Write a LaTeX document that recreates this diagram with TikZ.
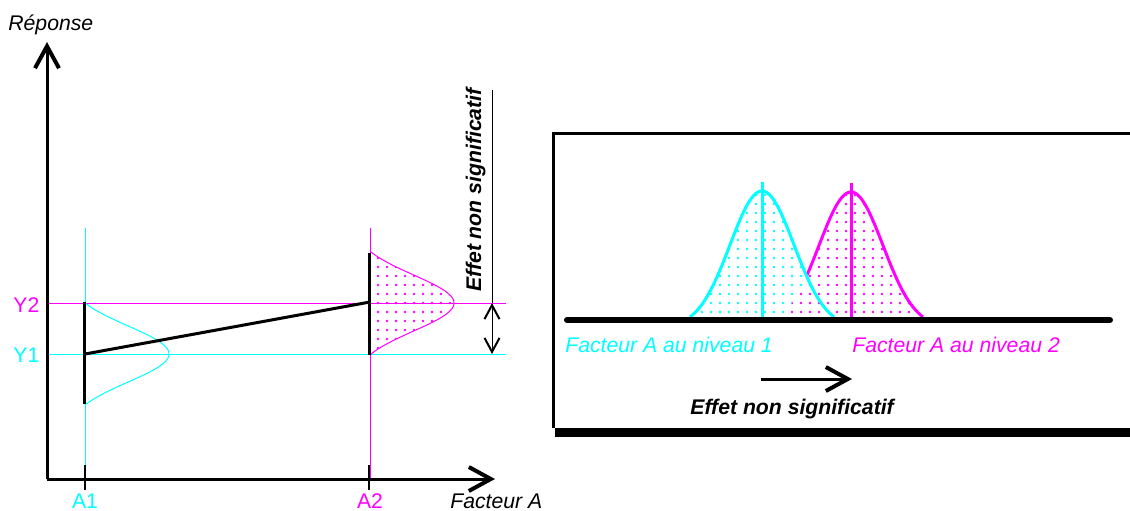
\documentclass[tikz,border=0pt]{standalone}
\usepackage{fontspec}
\setmainfont{Liberation Sans}
\usetikzlibrary{arrows.meta,patterns.meta}
\definecolor{cy}{RGB}{0,255,255}
\definecolor{mg}{RGB}{255,0,255}
\begin{document}
\begin{tikzpicture}[x=0.5pt,y=-0.5pt,
  declare function={
    bellL(\t)=(exp(-\t*\t/1568)-exp(-2601/1568))/(1-exp(-2601/1568));
    bellR(\t)=(exp(-\t*\t/2048)-exp(-5184/2048))/(1-exp(-5184/2048));
  },
  txt/.style={inner sep=0pt,font=\fontsize{10.6}{12}\selectfont},
  itxt/.style={txt,font=\fontsize{10.6}{12}\selectfont\itshape},
  btxt/.style={txt,font=\fontsize{10.6}{12}\selectfont\bfseries\itshape},
  axis/.style={line width=1.5pt,-{Straight Barb[length=11pt,width=12pt,line width=2pt]}},
  thinc/.style={cy,line width=0.5pt},
  thinm/.style={mg,line width=0.5pt},
  bar/.style={line width=1.5pt},
  bell/.style={line width=1.5pt},
  dotsc/.style={pattern={Dots[distance=4.5pt,radius=0.7pt]},pattern color=cy},
  dotsm/.style={pattern={Dots[distance=4.5pt,radius=0.7pt]},pattern color=mg},
  dblarrow/.style={line width=0.5pt,{Straight Barb[length=7pt,width=7.5pt,line width=1pt]}-{Straight Barb[length=7pt,width=7.5pt,line width=1pt]}},
  fleche/.style={line width=1.5pt,-{Straight Barb[length=11pt,width=12pt,line width=2pt]}}
]
\useasboundingbox (0,0) rectangle (1130,510);

% ---------- left chart ----------
\coordinate (O) at (47,479);
\coordinate (Ytop) at (47,42);
\coordinate (Xend) at (495,479);

% guide lines
\coordinate (c1t) at (85,228);  \coordinate (c1b) at (85,479);
\coordinate (m2t) at (370,228); \coordinate (m2b) at (370,479);
\coordinate (y2a) at (48,303);  \coordinate (y2b) at (506,303);
\coordinate (y1a) at (48,354);  \coordinate (y1b) at (506,354);
\draw[thinc] (c1t) -- (c1b);
\draw[thinm] (m2t) -- (m2b);
\draw[thinm] (y2a) -- (y2b);
\draw[thinc] (y1a) -- (y1b);

% magenta distribution (A2), dotted
\fill[dotsm] plot[domain=-51:51,samples=80] ({371+83*bellL(\x)},{303+\x}) -- cycle;
\draw[thinm] plot[domain=-51:51,samples=80] ({371+83*bellL(\x)},{303+\x});
% cyan distribution (A1)
\draw[thinc] plot[domain=-51:51,samples=80] ({85+84*bellL(\x)},{354+\x});

% bars and mean line
\coordinate (b1t) at (84,302); \coordinate (b1b) at (84,404);
\coordinate (b2t) at (369,253); \coordinate (b2b) at (369,355);
\coordinate (m1) at (85,354); \coordinate (m2) at (370,302);
\draw[bar] (b1t) -- (b1b);
\draw[bar] (b2t) -- (b2b);
\draw[bar] (m1) -- (m2);

% axes
\draw[axis] (O) -- (Ytop);
\draw[axis] (O) -- (Xend);
\coordinate (t1a) at (85,465); \coordinate (t1b) at (85,490);
\coordinate (t2a) at (369,465); \coordinate (t2b) at (369,490);
\draw[line width=1.2pt] (t1a) -- (t1b);
\draw[line width=1.2pt] (t2a) -- (t2b);

% effect marker
\coordinate (vtop) at (492,90); \coordinate (vup) at (492,303); \coordinate (vdn) at (492,354);
\draw[line width=0.5pt] (vtop) -- (vup);
\draw[dblarrow] (vup) -- (vdn);
\node[btxt,rotate=90,anchor=base west] (effv) at (481,292) {Effet non significatif};

% labels
\node[itxt,anchor=base west] (rep) at (8,30) {Réponse};
\node[itxt,anchor=base west] (fac) at (450,508) {Facteur A};
\node[txt,anchor=base,cy] (a1) at (85,508) {A1};
\node[txt,anchor=base,mg] (a2) at (370,508) {A2};
\node[txt,anchor=base west,mg] (ly2) at (13,312) {Y2};
\node[txt,anchor=base west,cy] (ly1) at (13,362) {Y1};

% ---------- right panel ----------
\coordinate (bxTL) at (553,133);
\coordinate (bxTR) at (1130,133);
\coordinate (bxBL) at (553,428);
\draw[line width=1.5pt] (bxTR) -- (bxTL) -- (bxBL);
\fill (555,428) rectangle (1130,437);

% cyan bell
\fill[dotsc] plot[domain=-72:72,samples=100] ({762+\x},{317-126*bellR(\x)}) -- cycle;
% magenta bell over it
\fill[dotsm,preaction={fill=white}] plot[domain=-72:72,samples=100] ({851+\x},{317-125*bellR(\x)}) -- cycle;
\draw[mg,bell] plot[domain=-44.5:72,samples=100] ({851+\x},{317-125*bellR(\x)});
\draw[cy,bell] plot[domain=-72:72,samples=100] ({762+\x},{317-126*bellR(\x)});
\coordinate (cvt) at (762,182); \coordinate (cvb) at (762,321);
\coordinate (mvt) at (851,183); \coordinate (mvb) at (851,319);
\draw[cy,line width=1.5pt] (cvt) -- (cvb);
\draw[mg,line width=1.5pt] (mvt) -- (mvb);

% baseline
\coordinate (bl1) at (567,320); \coordinate (bl2) at (1110,320);
\draw[line width=3pt,line cap=round] (bl1) -- (bl2);

\node[itxt,anchor=base west,cy] (n1) at (565,352) {Facteur A au niveau 1};
\node[itxt,anchor=base west,mg] (n2) at (852,352) {Facteur A au niveau 2};

\coordinate (ar1) at (761,379); \coordinate (ar2) at (852,379);
\draw[fleche] (ar1) -- (ar2);
\node[btxt,anchor=base west] (effh) at (690,414) {Effet non significatif};
\end{tikzpicture}
\end{document}
